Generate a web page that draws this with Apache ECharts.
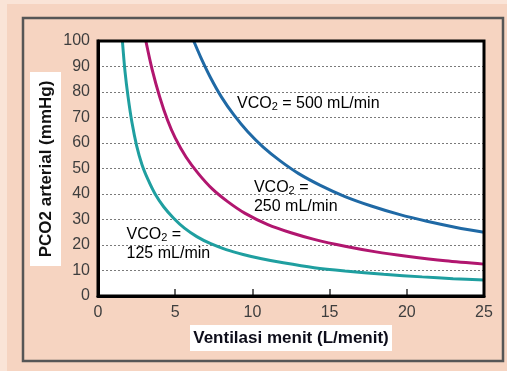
<!DOCTYPE html>
<html>
<head>
<meta charset="utf-8">
<script src="https://cdn.jsdelivr.net/npm/echarts@6/dist/echarts.min.js"></script>
<style>
  html, body { margin: 0; padding: 0; background: #fae4d7; }
  #chart { width: 507px; height: 371px; }
</style>
</head>
<body>
<div id="chart"></div>
<script>
// Ventilation (L/min) vs arterial PCO2 (mmHg) for three CO2 production rates
var vco2_125 = [[1.58,100],[1.75,88],[1.95,78],[2.2,68],[2.5,59],[2.85,51.5],[3.25,45.5],[3.7,40],[4.25,35],[4.9,30.5],[5.6,26.6],[6.4,23.3],[7.3,20.5],[8.3,18.2],[9.4,16.3],[10.6,14.6],[12,13],[14,11.1],[16,9.8],[18.5,8.5],[21,7.5],[23,6.8],[25,6.3]];
var vco2_250 = [[3.1,100],[3.5,89],[4,78],[4.5,69],[5,62],[5.7,54.5],[6.5,48],[7.4,42],[8.4,37],[9.5,32.5],[11,28],[12.5,24.8],[14,22.2],[16,19.5],[18,17.3],[20,15.6],[22.5,13.8],[25,12.5]];
var vco2_500 = [[6.2,100],[6.7,93],[7.3,85.5],[8,78],[8.8,71],[9.7,64.4],[10.7,58.4],[11.8,53],[13,48],[14.4,43.4],[16,39],[17.7,35.3],[19.5,32],[21.3,29.3],[23.2,26.9],[25,25]];

var xTitle = 'Ventilasi menit (L/menit)';
var yTitle = 'PCO2 arterial (mmHg)';

// Curve annotations: anchor point [x, y] of each text line
var notes = [
  { at: [9.0, 75.4], lines: [['VCO', '2', ' = 500 mL/min']] },
  { at: [10.1, 42.2], lines: [['VCO', '2', ' ='], ['250 mL/min']] },
  { at: [1.85, 23.8], lines: [['VCO', '2', ' ='], ['125 mL/min']] }
];

var FONT = '"Liberation Sans", Arial, sans-serif';
var chart = echarts.init(document.getElementById('chart'), null, { renderer: 'canvas' });

function curve(name, data, color) {
  return {
    name: name, type: 'line', data: data, showSymbol: false,
    smooth: 0.3,
    lineStyle: { color: color, width: 3 }, z: 3
  };
}

chart.setOption({
  animation: false,
  grid: { left: 98, right: 23, top: 41, bottom: 75, show: true, backgroundColor: '#ffffff', borderWidth: 0 },
  xAxis: {
    type: 'value', min: 0, max: 25, interval: 5,
    axisLine: { show: true, lineStyle: { color: '#000', width: 3 } },
    axisTick: { show: true, inside: true, length: 7, lineStyle: { color: '#333', width: 1.5 } },
    axisLabel: { color: '#3e3e3e', fontSize: 16, margin: 9, fontFamily: FONT },
    splitLine: { show: false }
  },
  yAxis: {
    type: 'value', min: 0, max: 100, interval: 10,
    axisLine: { show: true, lineStyle: { color: '#000', width: 3 } },
    axisTick: { show: false },
    axisLabel: { color: '#3e3e3e', fontSize: 16, margin: 8, fontFamily: FONT },
    splitLine: { show: true, showMinLine: false, showMaxLine: false, lineStyle: { color: '#7a7a7a', type: [2, 2], width: 1 } }
  },
  series: [
    curve('125', vco2_125, '#1f9fa0'),
    curve('250', vco2_250, '#b1166f'),
    curve('500', vco2_500, '#1f69a5')
  ]
});

// Plot frame, outer panel and axis titles
var tl = chart.convertToPixel({ gridIndex: 0 }, [0, 100]);
var br = chart.convertToPixel({ gridIndex: 0 }, [25, 0]);

var graphics = [
  { type: 'rect', z: -10, shape: { x: 7, y: 4, width: 500, height: 367 }, style: { fill: '#f6d4c1' } },
  { type: 'rect', z: -9, shape: { x: 23, y: 18, width: 480, height: 343 }, style: { fill: 'none', stroke: '#565656', lineWidth: 2.5 } },
  { type: 'rect', z: 10, shape: { x: tl[0], y: tl[1], width: br[0] - tl[0], height: br[1] - tl[1] }, style: { fill: 'none', stroke: '#000', lineWidth: 3 } },
  { type: 'rect', z: 5, shape: { x: 30, y: 72, width: 31, height: 194 }, style: { fill: '#ffffff' } },
  { type: 'text', z: 6, x: 46, y: 169, rotation: Math.PI / 2,
    style: { text: yTitle, font: 'bold 17px ' + FONT, fill: '#111', align: 'center', verticalAlign: 'middle' } },
  { type: 'rect', z: 5, shape: { x: 190, y: 325, width: 202, height: 26 }, style: { fill: '#ffffff' } },
  { type: 'text', z: 6, x: 291, y: 338,
    style: { text: xTitle, font: 'bold 17px ' + FONT, fill: '#0d0d1a', align: 'center', verticalAlign: 'middle' } }
];

var rich = {
  t: { fontSize: 16, fontFamily: FONT, color: '#3b3b3b', lineHeight: 19, verticalAlign: 'middle' },
  s: { fontSize: 11, fontFamily: FONT, color: '#3b3b3b', lineHeight: 12, padding: [7, 0, 0, 0], verticalAlign: 'middle' }
};

notes.forEach(function (n) {
  var p = chart.convertToPixel({ gridIndex: 0 }, n.at);
  var txt = n.lines.map(function (parts) {
    return parts.map(function (s, i) {
      return (parts.length === 3 && i === 1) ? '{s|' + s + '}' : '{t|' + s + '}';
    }).join('');
  }).join('\n');
  graphics.push({
    type: 'text', z: 8, x: p[0], y: p[1] - 10,
    style: { text: txt, rich: rich, align: 'left', verticalAlign: 'top' }
  });
});

chart.setOption({ graphic: graphics });
</script>
</body>
</html>
